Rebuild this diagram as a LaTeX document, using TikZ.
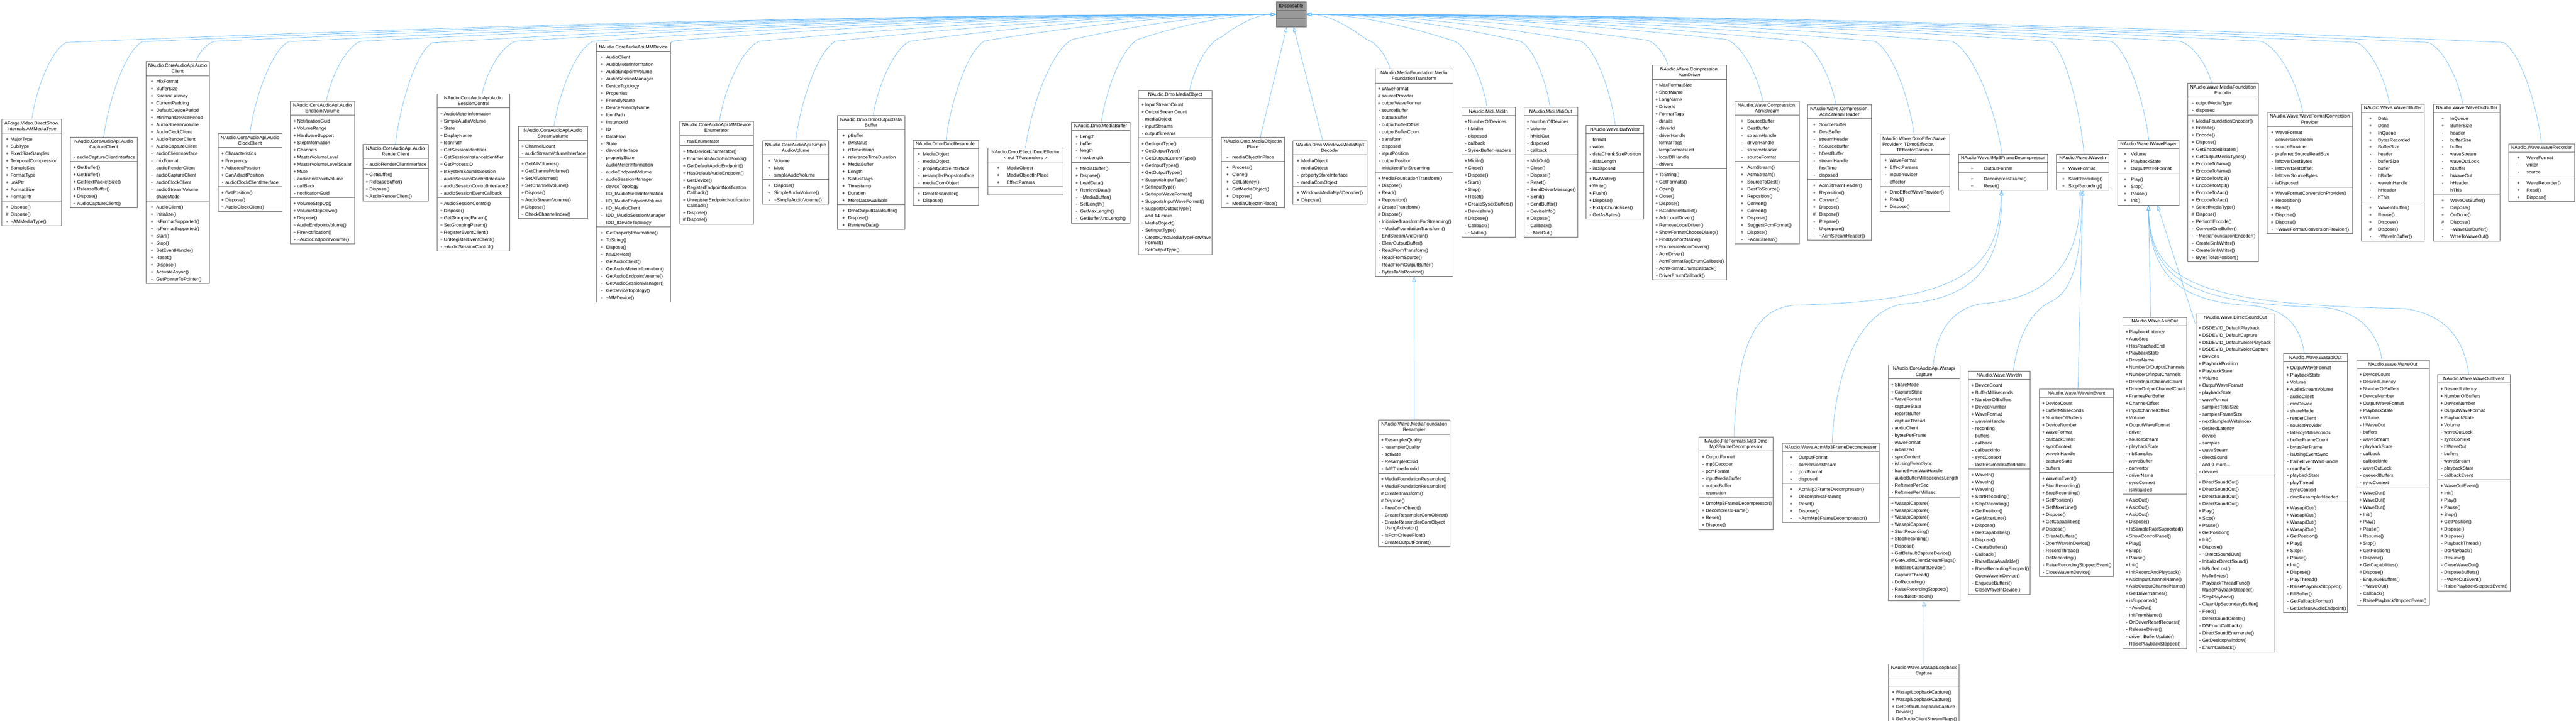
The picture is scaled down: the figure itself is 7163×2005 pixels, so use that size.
\documentclass[tikz,border=0pt]{standalone}
\usepackage{fontspec}
\setmainfont{Liberation Sans}
\usetikzlibrary{shapes.multipart,arrows.meta,calc}
\definecolor{edgeblue}{HTML}{63B8FF}
\definecolor{boxgray}{HTML}{666666}
\definecolor{idfill}{HTML}{999999}
\newdimen\namex \newdimen\symx
\AtBeginDocument{\fontsize{13}{20}\selectfont\lineskiplimit=-100pt\parindent=0pt}
\newcommand\mbr[2]{\par\noindent\vrule height14pt depth6pt width0pt\hskip\symx\hbox to 8pt{\hss#1\hss}\hskip\dimexpr\namex-\symx-8pt\relax#2}
\newcommand\mP[1]{\mbr{+}{#1}}
\newcommand\mM[1]{\mbr{-}{#1}}
\newcommand\mH[1]{\mbr{\#}{#1}}
\newcommand\mT[1]{\mbr{\textasciitilde}{#1}}
\newcommand\mmP[2]{\mbr{+}{#1}\par\vskip-5pt\noindent\vrule height14pt depth6pt width0pt\hskip\namex\relax#2}
\newcommand\mmM[2]{\mbr{-}{#1}\par\vskip-5pt\noindent\vrule height14pt depth6pt width0pt\hskip\namex\relax#2}
\newcommand\emp{\noindent\vrule height14pt depth6pt width0pt}
\newcommand\ta[1]{{\centering\noindent\vrule height14pt width0pt #1\vrule depth6pt width0pt\par}}
\newcommand\tb[2]{{\centering\baselineskip=16pt\noindent\vrule height14pt width0pt #1\par\noindent #2\vrule depth6pt width0pt\par}}
\newcommand\tcx[3]{{\baselineskip=16pt\leftskip=7pt\rightskip=0pt plus 1fil\noindent\vrule height14pt width0pt #1\par\noindent #2\par\centering\noindent #3\vrule depth6pt width0pt\par}}
\tikzset{
  cls/.style 2 args={rectangle split, rectangle split parts=3, draw=boxgray, line width=1pt,
    inner xsep=0pt, inner ysep=1pt, text width=#1pt, anchor=north west, align=left,
    execute at begin node={\global\namex=#2pt\global\symx=\dimexpr#2pt/2-1.5pt\relax}},
  inh/.style={draw=edgeblue, line width=1pt, -{Triangle[open,length=14pt,width=10pt]}}
}
% edge from a class up to IDisposable: node, start dx, bend dx, bend y, target
\newcommand\toid[5]{%
  \draw[inh] let \p1=($(#1.north)+(#2,0)$), \p2=(#5), \n1={\x1+(#3)}, \n2={-(#4)}, \n3={-(#4)-(\y1)} in
   (\p1) .. controls ({\x1+0.12*(#3)},{\y1+0.38*(\n3)}) and ({\n1-0.45*(#3)},{\n2-0.1*(\n3)}) .. (\n1,\n2)
   .. controls ({\n1+((\x2)-(\n1))/3},{\n2+0.6*((\y2)-(\n2))}) and ({\x2-((\x2)-(\n1))/3},{\y2}) .. (\p2);}
\begin{document}
\begin{tikzpicture}[x=1pt,y=1pt]
\useasboundingbox (0,0) rectangle (7163,-2005);
% ---------------- IDisposable
\node[cls={83}{0}, fill=idfill] (idisp) at (3548,-5) {\ta{IDisposable}\nodepart{two}\emp\nodepart{three}\emp};
\coordinate (idL) at ($(idisp.north west)+(0,-35)$);
\coordinate (idR) at ($(idisp.north east)+(0,-35)$);
\coordinate (idB1) at ($(idisp.south west)+(30,0)$);
\coordinate (idB2) at ($(idisp.south west)+(49,0)$);
% ---------------- top row
\node[cls={166}{24}] (ammt) at (5,-331) {\tb{AForge.Video.DirectShow.}{Internals.AMMediaType}
\nodepart{two}\mP{MajorType}\mP{SubType}\mP{FixedSizeSamples}\mP{TemporalCompression}\mP{SampleSize}\mP{FormatType}\mP{unkPtr}\mP{FormatSize}\mP{FormatPtr}
\nodepart{three}\mP{Dispose()}\mH{Dispose()}\mM{\textasciitilde AMMediaType()}};
\node[cls={186}{19}] (acc) at (195,-381) {\tb{NAudio.CoreAudioApi.Audio}{CaptureClient}
\nodepart{two}\mM{audioCaptureClientInterface}
\nodepart{three}\mP{GetBuffer()}\mP{GetBuffer()}\mP{GetNextPacketSize()}\mP{ReleaseBuffer()}\mP{Dispose()}\mT{AudioCaptureClient()}};
\node[cls={177}{29}] (ac) at (405,-171) {\tb{NAudio.CoreAudioApi.Audio}{Client}
\nodepart{two}\mP{MixFormat}\mP{BufferSize}\mP{StreamLatency}\mP{CurrentPadding}\mP{DefaultDevicePeriod}\mP{MinimumDevicePeriod}\mP{AudioStreamVolume}\mP{AudioClockClient}\mP{AudioRenderClient}\mP{AudioCaptureClient}\mM{audioClientInterface}\mM{mixFormat}\mM{audioRenderClient}\mM{audioCaptureClient}\mM{audioClockClient}\mM{audioStreamVolume}\mM{shareMode}
\nodepart{three}\mP{AudioClient()}\mP{Initialize()}\mP{IsFormatSupported()}\mP{IsFormatSupported()}\mP{Start()}\mP{Stop()}\mP{SetEventHandle()}\mP{Reset()}\mP{Dispose()}\mP{ActivateAsync()}\mM{GetPointerToPointer()}};
\node[cls={177}{20}] (acl) at (606,-371) {\tb{NAudio.CoreAudioApi.Audio}{ClockClient}
\nodepart{two}\mP{Characteristics}\mP{Frequency}\mP{AdjustedPosition}\mP{CanAdjustPosition}\mM{audioClockClientInterface}
\nodepart{three}\mP{GetPosition()}\mP{Dispose()}\mT{AudioClockClient()}};
\node[cls={178}{19}] (aev) at (807,-281) {\tb{NAudio.CoreAudioApi.Audio}{EndpointVolume}
\nodepart{two}\mP{NotificationGuid}\mP{VolumeRange}\mP{HardwareSupport}\mP{StepInformation}\mP{Channels}\mP{MasterVolumeLevel}\mP{MasterVolumeLevelScalar}\mP{Mute}\mM{audioEndPointVolume}\mM{callBack}\mM{notificationGuid}
\nodepart{three}\mP{VolumeStepUp()}\mP{VolumeStepDown()}\mP{Dispose()}\mT{AudioEndpointVolume()}\mT{FireNotification()}\mM{\textasciitilde AudioEndpointVolume()}};
\node[cls={182}{19}] (arc) at (1008,-401) {\tb{NAudio.CoreAudioApi.Audio}{RenderClient}
\nodepart{two}\mM{audioRenderClientInterface}
\nodepart{three}\mP{GetBuffer()}\mP{ReleaseBuffer()}\mP{Dispose()}\mT{AudioRenderClient()}};
\node[cls={202}{19}] (asc) at (1215,-261) {\tb{NAudio.CoreAudioApi.Audio}{SessionControl}
\nodepart{two}\mP{AudioMeterInformation}\mP{SimpleAudioVolume}\mP{State}\mP{DisplayName}\mP{IconPath}\mP{GetSessionIdentifier}\mP{GetSessionInstanceIdentifier}\mP{GetProcessID}\mP{IsSystemSoundsSession}\mM{audioSessionControlInterface}\mM{audioSessionControlInterface2}\mM{audioSessionEventCallback}
\nodepart{three}\mP{AudioSessionControl()}\mP{Dispose()}\mP{GetGroupingParam()}\mP{SetGroupingParam()}\mP{RegisterEventClient()}\mP{UnRegisterEventClient()}\mM{\textasciitilde AudioSessionControl()}};
\node[cls={192}{19}] (asv) at (1441,-351) {\tb{NAudio.CoreAudioApi.Audio}{StreamVolume}
\nodepart{two}\mP{ChannelCount}\mM{audioStreamVolumeInterface}
\nodepart{three}\mP{GetAllVolumes()}\mP{GetChannelVolume()}\mP{SetAllVolumes()}\mP{SetChannelVolume()}\mP{Dispose()}\mT{AudioStreamVolume()}\mH{Dispose()}\mM{CheckChannelIndex()}};
\node[cls={207}{28}] (mmd) at (1657,-119) {\ta{NAudio.CoreAudioApi.MMDevice}
\nodepart{two}\mP{AudioClient}\mP{AudioMeterInformation}\mP{AudioEndpointVolume}\mP{AudioSessionManager}\mP{DeviceTopology}\mP{Properties}\mP{FriendlyName}\mP{DeviceFriendlyName}\mP{IconPath}\mP{InstanceId}\mP{ID}\mP{DataFlow}\mP{State}\mM{deviceInterface}\mM{propertyStore}\mM{audioMeterInformation}\mM{audioEndpointVolume}\mM{audioSessionManager}\mM{deviceTopology}\mM{IID\_IAudioMeterInformation}\mM{IID\_IAudioEndpointVolume}\mM{IID\_IAudioClient}\mM{IDD\_IAudioSessionManager}\mM{IDD\_IDeviceTopology}
\nodepart{three}\mP{GetPropertyInformation()}\mP{ToString()}\mP{Dispose()}\mT{MMDevice()}\mM{GetAudioClient()}\mM{GetAudioMeterInformation()}\mM{GetAudioEndpointVolume()}\mM{GetAudioSessionManager()}\mM{GetDeviceTopology()}\mM{\textasciitilde MMDevice()}};
\node[cls={206}{21}] (mmde) at (1889,-336) {\tb{NAudio.CoreAudioApi.MMDevice}{Enumerator}
\nodepart{two}\mM{realEnumerator}
\nodepart{three}\mP{MMDeviceEnumerator()}\mP{EnumerateAudioEndPoints()}\mP{GetDefaultAudioEndpoint()}\mP{HasDefaultAudioEndpoint()}\mP{GetDevice()}\mmP{RegisterEndpointNotification}{Callback()}\mmP{UnregisterEndpointNotification}{Callback()}\mP{Dispose()}\mH{Dispose()}};
\node[cls={184}{32}] (sav) at (2120,-391) {\tb{NAudio.CoreAudioApi.Simple}{AudioVolume}
\nodepart{two}\mP{Volume}\mP{Mute}\mM{simpleAudioVolume}
\nodepart{three}\mP{Dispose()}\mT{SimpleAudioVolume()}\mM{\textasciitilde SimpleAudioVolume()}};
\node[cls={187}{30}] (dodb) at (2328,-321) {\tb{NAudio.Dmo.DmoOutputData}{Buffer}
\nodepart{two}\mP{pBuffer}\mP{dwStatus}\mP{rtTimestamp}\mP{referenceTimeDuration}\mP{MediaBuffer}\mP{Length}\mP{StatusFlags}\mP{Timestamp}\mP{Duration}\mP{MoreDataAvailable}
\nodepart{three}\mP{DmoOutputDataBuffer()}\mP{Dispose()}\mP{RetrieveData()}};
\node[cls={182}{27}] (dres) at (2539,-389) {\ta{NAudio.Dmo.DmoResampler}
\nodepart{two}\mP{MediaObject}\mM{mediaObject}\mM{propertyStoreInterface}\mM{resamplerPropsInterface}\mM{mediaComObject}
\nodepart{three}\mP{DmoResampler()}\mP{Dispose()}};
\node[cls={210}{53}] (ide) at (2746,-411) {\tb{NAudio.Dmo.Effect.IDmoEffector}{< out TParameters >}
\nodepart{two}\mP{MediaObject}\mP{MediaObjectInPlace}\mP{EffectParams}
\nodepart{three}\emp};
\node[cls={162}{24}] (mb) at (2979,-339) {\ta{NAudio.Dmo.MediaBuffer}
\nodepart{two}\mP{Length}\mM{buffer}\mM{length}\mM{maxLength}
\nodepart{three}\mP{MediaBuffer()}\mP{Dispose()}\mP{LoadData()}\mP{RetrieveData()}\mM{\textasciitilde MediaBuffer()}\mM{SetLength()}\mM{GetMaxLength()}\mM{GetBufferAndLength()}};
\node[cls={205}{19}] (mo) at (3165,-251) {\ta{NAudio.Dmo.MediaObject}
\nodepart{two}\mP{InputStreamCount}\mP{OutputStreamCount}\mM{mediaObject}\mM{inputStreams}\mM{outputStreams}
\nodepart{three}\mP{GetInputType()}\mP{GetOutputType()}\mP{GetOutputCurrentType()}\mP{GetInputTypes()}\mP{GetOutputTypes()}\mP{SupportsInputType()}\mP{SetInputType()}\mP{SetInputWaveFormat()}\mP{SupportsInputWaveFormat()}\mP{SupportsOutputType()}\mbr{}{and 14 more...}\mT{MediaObject()}\mM{SetInputType()}\mmM{CreateDmoMediaTypeForWave}{Format()}\mM{SetOutputType()}};
\node[cls={176}{31}] (moip) at (3395,-381) {\tb{NAudio.Dmo.MediaObjectIn}{Place}
\nodepart{two}\mM{mediaObjectInPlace}
\nodepart{three}\mP{Process()}\mP{Clone()}\mP{GetLatency()}\mP{GetMediaObject()}\mP{Dispose()}\mT{MediaObjectInPlace()}};
\node[cls={205}{23}] (wmmp3) at (3595,-391) {\tb{NAudio.Dmo.WindowsMediaMp3}{Decoder}
\nodepart{two}\mP{MediaObject}\mM{mediaObject}\mM{propertyStoreInterface}\mM{mediaComObject}
\nodepart{three}\mP{WindowsMediaMp3Decoder()}\mP{Dispose()}};
\node[cls={217}{19}] (mft) at (3823,-191) {\tb{NAudio.MediaFoundation.Media}{FoundationTransform}
\nodepart{two}\mP{WaveFormat}\mH{sourceProvider}\mH{outputWaveFormat}\mM{sourceBuffer}\mM{outputBuffer}\mM{outputBufferOffset}\mM{outputBufferCount}\mM{transform}\mM{disposed}\mM{inputPosition}\mM{outputPosition}\mM{initializedForStreaming}
\nodepart{three}\mP{MediaFoundationTransform()}\mP{Dispose()}\mP{Read()}\mP{Reposition()}\mH{CreateTransform()}\mH{Dispose()}\mM{InitializeTransformForStreaming()}\mM{\textasciitilde MediaFoundationTransform()}\mM{EndStreamAndDrain()}\mM{ClearOutputBuffer()}\mM{ReadFromTransform()}\mM{ReadFromSource()}\mM{ReadFromOutputBuffer()}\mM{BytesToNsPosition()}};
\node[cls={149}{18}] (midiin) at (4064,-298) {\ta{NAudio.Midi.MidiIn}
\nodepart{two}\mP{NumberOfDevices}\mM{hMidiIn}\mM{disposed}\mM{callback}\mM{SysexBufferHeaders}
\nodepart{three}\mP{MidiIn()}\mP{Close()}\mP{Dispose()}\mP{Start()}\mP{Stop()}\mP{Reset()}\mP{CreateSysexBuffers()}\mP{DeviceInfo()}\mH{Dispose()}\mM{Callback()}\mM{\textasciitilde MidiIn()}};
\node[cls={149}{18}] (midiout) at (4237,-298) {\ta{NAudio.Midi.MidiOut}
\nodepart{two}\mP{NumberOfDevices}\mP{Volume}\mM{hMidiOut}\mM{disposed}\mM{callback}
\nodepart{three}\mP{MidiOut()}\mP{Close()}\mP{Dispose()}\mP{Reset()}\mP{SendDriverMessage()}\mP{Send()}\mP{SendBuffer()}\mP{DeviceInfo()}\mH{Dispose()}\mM{Callback()}\mM{\textasciitilde MidiOut()}};
\node[cls={160}{18}] (bwf) at (4410,-348) {\ta{NAudio.Wave.BwfWriter}
\nodepart{two}\mM{format}\mM{writer}\mM{dataChunkSizePosition}\mM{dataLength}\mM{isDisposed}
\nodepart{three}\mP{BwfWriter()}\mP{Write()}\mP{Flush()}\mP{Dispose()}\mM{FixUpChunkSizes()}\mM{GetAsBytes()}};
\node[cls={205}{18}] (acmd) at (4595,-181) {\tb{NAudio.Wave.Compression.}{AcmDriver}
\nodepart{two}\mP{MaxFormatSize}\mP{ShortName}\mP{LongName}\mP{DriverId}\mP{FormatTags}\mM{details}\mM{driverId}\mM{driverHandle}\mM{formatTags}\mM{tempFormatsList}\mM{localDllHandle}\mM{drivers}
\nodepart{three}\mP{ToString()}\mP{GetFormats()}\mP{Open()}\mP{Close()}\mP{Dispose()}\mP{IsCodecInstalled()}\mP{AddLocalDriver()}\mP{RemoveLocalDriver()}\mP{ShowFormatChooseDialog()}\mP{FindByShortName()}\mP{EnumerateAcmDrivers()}\mM{AcmDriver()}\mM{AcmFormatTagEnumCallback()}\mM{AcmFormatEnumCallback()}\mM{DriverEnumCallback()}};
\node[cls={178}{34}] (acms) at (4824,-281) {\tb{NAudio.Wave.Compression.}{AcmStream}
\nodepart{two}\mP{SourceBuffer}\mP{DestBuffer}\mM{streamHandle}\mM{driverHandle}\mM{streamHeader}\mM{sourceFormat}
\nodepart{three}\mP{AcmStream()}\mP{AcmStream()}\mP{SourceToDest()}\mP{DestToSource()}\mP{Reposition()}\mP{Convert()}\mP{Convert()}\mP{Dispose()}\mP{SuggestPcmFormat()}\mH{Dispose()}\mM{\textasciitilde AcmStream()}};
\node[cls={177}{32}] (acmsh) at (5026,-291) {\tb{NAudio.Wave.Compression.}{AcmStreamHeader}
\nodepart{two}\mP{SourceBuffer}\mP{DestBuffer}\mM{streamHeader}\mM{hSourceBuffer}\mM{hDestBuffer}\mM{streamHandle}\mM{firstTime}\mM{disposed}
\nodepart{three}\mP{AcmStreamHeader()}\mP{Reposition()}\mP{Convert()}\mP{Dispose()}\mH{Dispose()}\mM{Prepare()}\mM{Unprepare()}\mM{\textasciitilde AcmStreamHeader()}};
\node[cls={194}{27.5}] (dewp) at (5227,-374) {\tcx{NAudio.Wave.DmoEffectWave}{Provider< TDmoEffector,}{TEffectorParam >}
\nodepart{two}\mP{WaveFormat}\mP{EffectParams}\mM{inputProvider}\mM{effector}
\nodepart{three}\mP{DmoEffectWaveProvider()}\mP{Read()}\mP{Dispose()}};
\node[cls={248}{71}] (imp3) at (5445,-428) {\ta{NAudio.Wave.IMp3FrameDecompressor}
\nodepart{two}\mP{OutputFormat}
\nodepart{three}\mP{DecompressFrame()}\mP{Reset()}};
\node[cls={145}{33}] (iwi) at (5718,-428) {\ta{NAudio.Wave.IWaveIn}
\nodepart{two}\mP{WaveFormat}
\nodepart{three}\mP{StartRecording()}\mP{StopRecording()}};
\node[cls={171}{37}] (iwp) at (5888,-389) {\ta{NAudio.Wave.IWavePlayer}
\nodepart{two}\mP{Volume}\mP{PlaybackState}\mP{OutputWaveFormat}
\nodepart{three}\mP{Play()}\mP{Stop()}\mP{Pause()}\mP{Init()}};
\node[cls={196}{23}] (mfe) at (6083,-231) {\tb{NAudio.Wave.MediaFoundation}{Encoder}
\nodepart{two}\mM{outputMediaType}\mM{disposed}
\nodepart{three}\mP{MediaFoundationEncoder()}\mP{Encode()}\mP{Encode()}\mP{Dispose()}\mP{GetEncodeBitrates()}\mP{GetOutputMediaTypes()}\mP{EncodeToWma()}\mP{EncodeToWma()}\mP{EncodeToMp3()}\mP{EncodeToMp3()}\mP{EncodeToAac()}\mP{EncodeToAac()}\mP{SelectMediaType()}\mH{Dispose()}\mM{PerformEncode()}\mM{ConvertOneBuffer()}\mM{\textasciitilde MediaFoundationEncoder()}\mM{CreateSinkWriter()}\mM{CreateSinkWriter()}\mM{BytesToNsPosition()}};
\node[cls={237}{23}] (wfcp) at (6304,-312) {\tb{NAudio.Wave.WaveFormatConversion}{Provider}
\nodepart{two}\mP{WaveFormat}\mM{conversionStream}\mM{sourceProvider}\mM{preferredSourceReadSize}\mM{leftoverDestBytes}\mM{leftoverDestOffset}\mM{leftoverSourceBytes}\mM{isDisposed}
\nodepart{three}\mP{WaveFormatConversionProvider()}\mP{Reposition()}\mP{Read()}\mP{Dispose()}\mH{Dispose()}\mM{\textasciitilde WaveFormatConversionProvider()}};
\node[cls={176}{47}] (wib) at (6565,-289) {\ta{NAudio.Wave.WaveInBuffer}
\nodepart{two}\mP{Data}\mP{Done}\mP{InQueue}\mP{BytesRecorded}\mP{BufferSize}\mM{header}\mM{bufferSize}\mM{buffer}\mM{hBuffer}\mM{waveInHandle}\mM{hHeader}\mM{hThis}
\nodepart{three}\mP{WaveInBuffer()}\mP{Reuse()}\mP{Dispose()}\mH{Dispose()}\mM{\textasciitilde WaveInBuffer()}};
\node[cls={185}{47}] (wob) at (6766,-289) {\ta{NAudio.Wave.WaveOutBuffer}
\nodepart{two}\mP{InQueue}\mP{BufferSize}\mM{header}\mM{bufferSize}\mM{buffer}\mM{waveStream}\mM{waveOutLock}\mM{hBuffer}\mM{hWaveOut}\mM{hHeader}\mM{hThis}
\nodepart{three}\mP{WaveOutBuffer()}\mP{Dispose()}\mP{OnDone()}\mH{Dispose()}\mM{\textasciitilde WaveOutBuffer()}\mM{WriteToWaveOut()}};
\node[cls={183}{50}] (wrec) at (6975,-399) {\ta{NAudio.Wave.WaveRecorder}
\nodepart{two}\mP{WaveFormat}\mM{writer}\mM{source}
\nodepart{three}\mP{WaveRecorder()}\mP{Read()}\mP{Dispose()}};
% ---------------- second row
\node[cls={200}{18}] (mfr) at (3832,-1168) {\tb{NAudio.Wave.MediaFoundation}{Resampler}
\nodepart{two}\mP{ResamplerQuality}\mM{resamplerQuality}\mM{activate}\mM{ResamplerClsid}\mM{IMFTransformIid}
\nodepart{three}\mP{MediaFoundationResampler()}\mP{MediaFoundationResampler()}\mH{CreateTransform()}\mH{Dispose()}\mM{FreeComObject()}\mM{CreateResamplerComObject()}\mmM{CreateResamplerComObject}{UsingActivator()}\mM{IsPcmOrIeeeFloat()}\mM{CreateOutputFormat()}};
\node[cls={207}{20}] (dmp3) at (4723,-1215) {\tb{NAudio.FileFormats.Mp3.Dmo}{Mp3FrameDecompressor}
\nodepart{two}\mP{OutputFormat}\mM{mp3Decoder}\mM{pcmFormat}\mM{inputMediaBuffer}\mM{outputBuffer}\mM{reposition}
\nodepart{three}\mP{DmoMp3FrameDecompressor()}\mP{DecompressFrame()}\mP{Reset()}\mP{Dispose()}};
\node[cls={270}{46}] (amp3) at (4955,-1232) {\ta{NAudio.Wave.AcmMp3FrameDecompressor}
\nodepart{two}\mP{OutputFormat}\mM{conversionStream}\mM{pcmFormat}\mM{disposed}
\nodepart{three}\mP{AcmMp3FrameDecompressor()}\mP{DecompressFrame()}\mP{Reset()}\mP{Dispose()}\mM{\textasciitilde AcmMp3FrameDecompressor()}};
\node[cls={199}{18}] (wcap) at (5250,-1014) {\tb{NAudio.CoreAudioApi.Wasapi}{Capture}
\nodepart{two}\mP{ShareMode}\mP{CaptureState}\mP{WaveFormat}\mM{captureState}\mM{recordBuffer}\mM{captureThread}\mM{audioClient}\mM{bytesPerFrame}\mM{waveFormat}\mM{initialized}\mM{syncContext}\mM{isUsingEventSync}\mM{frameEventWaitHandle}\mM{audioBufferMillisecondsLength}\mM{ReftimesPerSec}\mM{ReftimesPerMillisec}
\nodepart{three}\mP{WasapiCapture()}\mP{WasapiCapture()}\mP{WasapiCapture()}\mP{WasapiCapture()}\mP{StartRecording()}\mP{StopRecording()}\mP{Dispose()}\mP{GetDefaultCaptureDevice()}\mH{GetAudioClientStreamFlags()}\mM{InitializeCaptureDevice()}\mM{CaptureThread()}\mM{DoRecording()}\mM{RaiseRecordingStopped()}\mM{ReadNextPacket()}};
\node[cls={196}{20}] (wlc) at (5251,-1846) {\tb{NAudio.Wave.WasapiLoopback}{Capture}
\nodepart{two}\emp
\nodepart{three}\mP{WasapiLoopbackCapture()}\mP{WasapiLoopbackCapture()}\mmP{GetDefaultLoopbackCapture}{Device()}\mH{GetAudioClientStreamFlags()}};
\node[cls={172}{19}] (wavein) at (5473,-1032) {\ta{NAudio.Wave.WaveIn}
\nodepart{two}\mP{DeviceCount}\mP{BufferMilliseconds}\mP{NumberOfBuffers}\mP{DeviceNumber}\mP{WaveFormat}\mM{waveInHandle}\mM{recording}\mM{buffers}\mM{callback}\mM{callbackInfo}\mM{syncContext}\mM{lastReturnedBufferIndex}
\nodepart{three}\mP{WaveIn()}\mP{WaveIn()}\mP{WaveIn()}\mP{StartRecording()}\mP{StopRecording()}\mP{GetPosition()}\mP{GetMixerLine()}\mP{Dispose()}\mP{GetCapabilities()}\mH{Dispose()}\mM{CreateBuffers()}\mM{Callback()}\mM{RaiseDataAvailable()}\mM{RaiseRecordingStopped()}\mM{OpenWaveInDevice()}\mM{EnqueueBuffers()}\mM{CloseWaveInDevice()}};
\node[cls={207}{18}] (wie) at (5670,-1082) {\ta{NAudio.Wave.WaveInEvent}
\nodepart{two}\mP{DeviceCount}\mP{BufferMilliseconds}\mP{NumberOfBuffers}\mP{DeviceNumber}\mP{WaveFormat}\mM{callbackEvent}\mM{syncContext}\mM{waveInHandle}\mM{captureState}\mM{buffers}
\nodepart{three}\mP{WaveInEvent()}\mP{StartRecording()}\mP{StopRecording()}\mP{GetPosition()}\mP{GetMixerLine()}\mP{Dispose()}\mP{GetCapabilities()}\mH{Dispose()}\mM{CreateBuffers()}\mM{OpenWaveInDevice()}\mM{RecordThread()}\mM{DoRecording()}\mM{RaiseRecordingStoppedEvent()}\mM{CloseWaveInDevice()}};
\node[cls={178}{18}] (asio) at (5902,-882) {\ta{NAudio.Wave.AsioOut}
\nodepart{two}\mP{PlaybackLatency}\mP{AutoStop}\mP{HasReachedEnd}\mP{PlaybackState}\mP{DriverName}\mP{NumberOfOutputChannels}\mP{NumberOfInputChannels}\mP{DriverInputChannelCount}\mP{DriverOutputChannelCount}\mP{FramesPerBuffer}\mP{ChannelOffset}\mP{InputChannelOffset}\mP{Volume}\mP{OutputWaveFormat}\mM{driver}\mM{sourceStream}\mM{playbackState}\mM{nbSamples}\mM{waveBuffer}\mM{convertor}\mM{driverName}\mM{syncContext}\mM{isInitialized}
\nodepart{three}\mP{AsioOut()}\mP{AsioOut()}\mP{AsioOut()}\mP{Dispose()}\mP{IsSampleRateSupported()}\mP{ShowControlPanel()}\mP{Play()}\mP{Stop()}\mP{Pause()}\mP{Init()}\mP{InitRecordAndPlayback()}\mP{AsioInputChannelName()}\mP{AsioOutputChannelName()}\mP{GetDriverNames()}\mP{isSupported()}\mM{\textasciitilde AsioOut()}\mM{InitFromName()}\mM{OnDriverResetRequest()}\mM{ReleaseDriver()}\mM{driver\_BufferUpdate()}\mM{RaisePlaybackStopped()}};
\node[cls={220}{18.5}] (dso) at (6105,-872) {\ta{NAudio.Wave.DirectSoundOut}
\nodepart{two}\mP{DSDEVID\_DefaultPlayback}\mP{DSDEVID\_DefaultCapture}\mP{DSDEVID\_DefaultVoicePlayback}\mP{DSDEVID\_DefaultVoiceCapture}\mP{Devices}\mP{PlaybackPosition}\mP{PlaybackState}\mP{Volume}\mP{OutputWaveFormat}\mM{playbackState}\mM{waveFormat}\mM{samplesTotalSize}\mM{samplesFrameSize}\mM{nextSamplesWriteIndex}\mM{desiredLatency}\mM{device}\mM{samples}\mM{waveStream}\mM{directSound}\mbr{}{and 9 more...}\mM{devices}
\nodepart{three}\mP{DirectSoundOut()}\mP{DirectSoundOut()}\mP{DirectSoundOut()}\mP{DirectSoundOut()}\mP{Play()}\mP{Stop()}\mP{Pause()}\mP{GetPosition()}\mP{Init()}\mP{Dispose()}\mM{\textasciitilde DirectSoundOut()}\mM{InitializeDirectSound()}\mM{IsBufferLost()}\mM{MsToBytes()}\mM{PlaybackThreadFunc()}\mM{RaisePlaybackStopped()}\mM{StopPlayback()}\mM{CleanUpSecondaryBuffer()}\mM{Feed()}\mM{DirectSoundCreate()}\mM{DSEnumCallback()}\mM{DirectSoundEnumerate()}\mM{GetDesktopWindow()}\mM{EnumCallback()}};
\node[cls={178}{19}] (wout) at (6349,-983) {\ta{NAudio.Wave.WasapiOut}
\nodepart{two}\mP{OutputWaveFormat}\mP{PlaybackState}\mP{Volume}\mP{AudioStreamVolume}\mM{audioClient}\mM{mmDevice}\mM{shareMode}\mM{renderClient}\mM{sourceProvider}\mM{latencyMilliseconds}\mM{bufferFrameCount}\mM{bytesPerFrame}\mM{isUsingEventSync}\mM{frameEventWaitHandle}\mM{readBuffer}\mM{playbackState}\mM{playThread}\mM{syncContext}\mM{dmoResamplerNeeded}
\nodepart{three}\mP{WasapiOut()}\mP{WasapiOut()}\mP{WasapiOut()}\mP{WasapiOut()}\mP{GetPosition()}\mP{Play()}\mP{Stop()}\mP{Pause()}\mP{Init()}\mP{Dispose()}\mM{PlayThread()}\mM{RaisePlaybackStopped()}\mM{FillBuffer()}\mM{GetFallbackFormat()}\mM{GetDefaultAudioEndpoint()}};
\node[cls={202}{18.5}] (wo) at (6552,-1002) {\ta{NAudio.Wave.WaveOut}
\nodepart{two}\mP{DeviceCount}\mP{DesiredLatency}\mP{NumberOfBuffers}\mP{DeviceNumber}\mP{OutputWaveFormat}\mP{PlaybackState}\mP{Volume}\mM{hWaveOut}\mM{buffers}\mM{waveStream}\mM{playbackState}\mM{callback}\mM{callbackInfo}\mM{waveOutLock}\mM{queuedBuffers}\mM{syncContext}
\nodepart{three}\mP{WaveOut()}\mP{WaveOut()}\mP{WaveOut()}\mP{Init()}\mP{Play()}\mP{Pause()}\mP{Resume()}\mP{Stop()}\mP{GetPosition()}\mP{Dispose()}\mP{GetCapabilities()}\mH{Dispose()}\mM{EnqueueBuffers()}\mM{\textasciitilde WaveOut()}\mM{Callback()}\mM{RaisePlaybackStoppedEvent()}};
\node[cls={201}{18}] (woe) at (6778,-1042) {\ta{NAudio.Wave.WaveOutEvent}
\nodepart{two}\mP{DesiredLatency}\mP{NumberOfBuffers}\mP{DeviceNumber}\mP{OutputWaveFormat}\mP{PlaybackState}\mP{Volume}\mM{waveOutLock}\mM{syncContext}\mM{hWaveOut}\mM{buffers}\mM{waveStream}\mM{playbackState}\mM{callbackEvent}
\nodepart{three}\mP{WaveOutEvent()}\mP{Init()}\mP{Play()}\mP{Pause()}\mP{Stop()}\mP{GetPosition()}\mP{Dispose()}\mH{Dispose()}\mM{PlaybackThread()}\mM{DoPlayback()}\mM{Resume()}\mM{CloseWaveOut()}\mM{DisposeBuffers()}\mM{\textasciitilde WaveOutEvent()}\mM{RaisePlaybackStoppedEvent()}};
% ---------------- edges to IDisposable (left side)
\toid{ammt}{0}{96}{118}{idL}
\toid{acc}{0}{107}{116}{idL}
\toid{ac}{51}{52}{115}{idL}
\toid{acl}{0}{107}{116}{idL}
\toid{aev}{11}{95}{115}{idL}
\toid{arc}{0}{102}{119}{idL}
\toid{asc}{24}{93}{115}{idL}
\toid{asv}{3}{108}{115}{idL}
\toid{mmd}{103.5}{16}{113}{idL}
\toid{mmde}{8}{110}{115}{idL}
\toid{sav}{0}{110}{115}{idL}
\toid{dodb}{6}{102}{115}{idL}
\toid{dres}{0}{107}{114}{idL}
\toid{ide}{0}{130}{110}{idL}
\toid{mb}{2}{103}{109}{idL}
\toid{mo}{40}{88}{103}{idL}
% ---------------- edges to IDisposable (right side)
\toid{mft}{-67}{-65}{110}{idR}
\toid{midiin}{-4}{-90}{115}{idR}
\toid{midiout}{-2}{-82}{115}{idR}
\toid{bwf}{1}{-95}{115}{idR}
\toid{acmd}{-60}{-58}{112}{idR}
\toid{acms}{-12}{-100}{110}{idR}
\toid{acmsh}{-10}{-97}{115}{idR}
\toid{dewp}{-2}{-109}{115}{idR}
\toid{imp3}{-3}{-138}{115}{idR}
\toid{iwi}{4}{-92}{115}{idR}
\toid{iwp}{1}{-104}{115}{idR}
\toid{mfe}{-32}{-87}{115}{idR}
\toid{wfcp}{-20}{-115}{115}{idR}
\toid{wib}{-9}{-92}{118}{idR}
\toid{wob}{-11}{-96}{118}{idR}
\toid{wrec}{0}{-106}{118}{idR}
% ---------------- edges to IDisposable (below)
\draw[inh] ($(moip.north)+(21,0)$) -- (idB1);
\draw[inh] ($(wmmp3.north)+(-20,0)$) -- (idB2);
% ---------------- second row edges
\draw[inh] (mfr.north) -- (mft.south);
\draw[inh] (wlc.north) -- (wcap.south);
\draw[inh] ($(dmp3.north)+(-5,0)$) .. controls (4830,-960) and (4880,-858) .. (4990,-849)
  .. controls (5440,-838) and (5560,-760) .. ($(imp3.south)+(-5,0)$);
\draw[inh] ($(amp3.north)+(4,0)$) .. controls (5105,-1000) and (5185,-862) .. (5290,-846)
  .. controls (5470,-833) and (5566,-760) .. ($(imp3.south)+(-3,0)$);
\draw[inh] ($(wcap.north)+(26,0)$) .. controls (5385,-920) and (5430,-858) .. (5510,-845)
  .. controls (5690,-832) and (5783,-740) .. ($(iwi.south)+(-6,0)$);
\draw[inh] ($(wavein.north)+(39,0)$) .. controls (5610,-940) and (5645,-865) .. (5705,-838)
  .. controls (5770,-805) and (5788,-700) .. ($(iwi.south)+(-2,0)$);
\draw[inh] ($(wie.north)+(4,0)$) -- ($(iwi.south)+(1,0)$);
\draw[inh] ($(asio.north)+(-11,0)$) -- (iwp.south);
\draw[inh] ($(dso.north west)+(0,-30)$) -- ($(iwp.south)+(25,0)$);
\draw[inh] ($(wout.north)+(-31,0)$) .. controls (6395,-900) and (6350,-858) .. (6260,-850)
  .. controls (6080,-842) and (5976,-780) .. (iwp.south);
\draw[inh] ($(wo.north)+(-30,0)$) .. controls (6612,-925) and (6560,-865) .. (6460,-855)
  .. controls (6090,-845) and (5978,-780) .. (iwp.south);
\draw[inh] ($(woe.north)+(-14.5,0)$) .. controls (6852,-935) and (6790,-870) .. (6680,-858)
  .. controls (6100,-848) and (5980,-780) .. (iwp.south);
\end{tikzpicture}
\end{document}
